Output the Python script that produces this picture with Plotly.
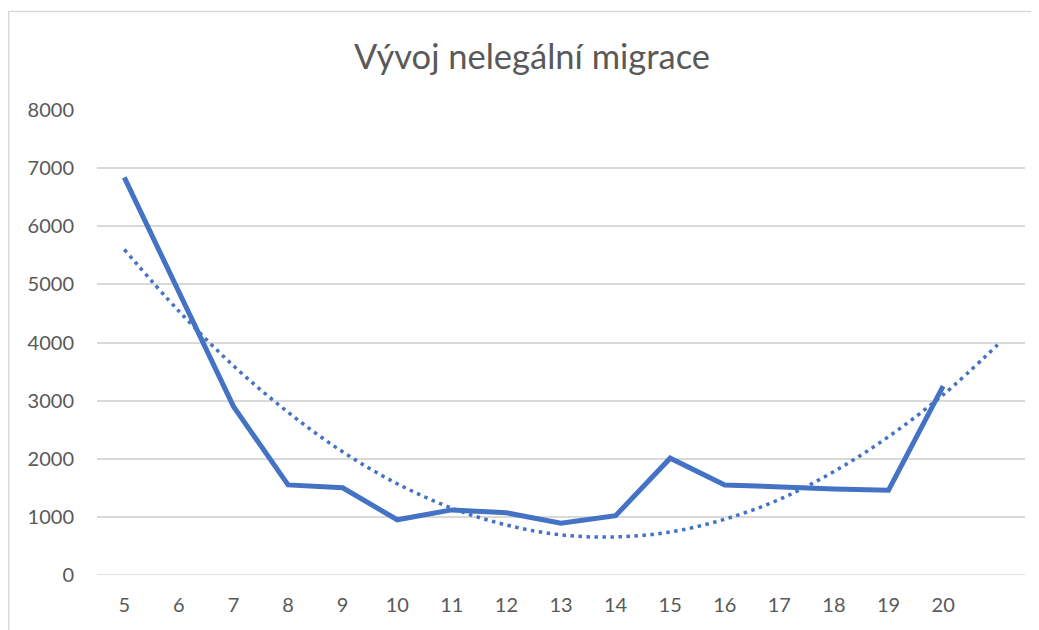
import plotly.graph_objects as go

# Data
categories = [5, 6, 7, 8, 9, 10, 11, 12, 13, 14, 15, 16, 17, 18, 19, 20]
migrace = [6840, 4880, 2900, 1550, 1500, 950, 1120, 1070, 890, 1020, 2010, 1550, 1510, 1480, 1460, 3250]
trend_x = [5, 6, 7, 8, 9, 10, 11, 12, 13, 14, 15, 16, 17, 18, 19, 20, 21]
trend_y = [5600, 4540, 3600, 2800, 2120, 1570, 1150, 860, 690, 655, 740, 960, 1300, 1780, 2380, 3100, 3960]
y_ticks = [0, 1000, 2000, 3000, 4000, 5000, 6000, 7000, 8000]

BLUE = "#4472C4"
GRID = "#d9d9d9"
TEXT = "#595959"
FONT = "Lato"

fig = go.Figure()
fig.add_trace(go.Scatter(
    x=trend_x, y=trend_y, mode="lines", line_shape="spline",
    line=dict(color=BLUE, width=3.5, dash="3.5px,4.5px"),
    hoverinfo="skip", showlegend=False))
fig.add_trace(go.Scatter(
    x=categories, y=migrace, mode="lines",
    line=dict(color=BLUE, width=5),
    hoverinfo="skip", showlegend=False))

# figure sits 8px in from the page edge (body margin)
W, H = 1031, 622
L, R, T, B = 89, 14, 102, 55
pw = W - L - R
ph = H - T - B

def px_to_paper_x(px):
    return (px - L) / pw

def px_to_paper_y(py):
    return (H - B - py) / ph

fig.update_layout(
    width=W, height=H,
    margin=dict(l=L, r=R, t=T, b=B),
    paper_bgcolor="white", plot_bgcolor="white",
    title=dict(text="Vývoj nelegální migrace", x=524 / W,
               xanchor="center", y=1 - 49 / H, yanchor="middle",
               font=dict(family=FONT, size=34.5, color=TEXT)),
    xaxis=dict(range=[4.5, 21.5], tickmode="array", tickvals=categories,
               ticktext=[str(c) for c in categories], showgrid=False,
               zeroline=False, showline=False, ticks="",
               ticklabelstandoff=16,
               tickfont=dict(family=FONT, size=20, color=TEXT)),
    yaxis=dict(range=[0, 8000], tickmode="array", tickvals=y_ticks,
               ticktext=[str(v) for v in y_ticks], showgrid=True,
               gridcolor=GRID, gridwidth=1.5, zeroline=False, showline=False,
               ticks="", ticklabelstandoff=22,
               tickfont=dict(family=FONT, size=20, color=TEXT)),
    shapes=[
        dict(type="line", xref="paper", yref="paper",
             x0=px_to_paper_x(0), x1=px_to_paper_x(W + 5),
             y0=px_to_paper_y(3.5), y1=px_to_paper_y(3.5),
             line=dict(color=GRID, width=1.5)),
        dict(type="line", xref="paper", yref="paper",
             x0=px_to_paper_x(0.75), x1=px_to_paper_x(0.75),
             y0=px_to_paper_y(3.5), y1=px_to_paper_y(H + 5),
             line=dict(color=GRID, width=1.5)),
        dict(type="line", xref="paper", yref="y",
             x0=0, x1=1, y0=0, y1=0, layer="below",
             line=dict(color=GRID, width=1.5)),
    ],
)

fig.write_html("out.html")
